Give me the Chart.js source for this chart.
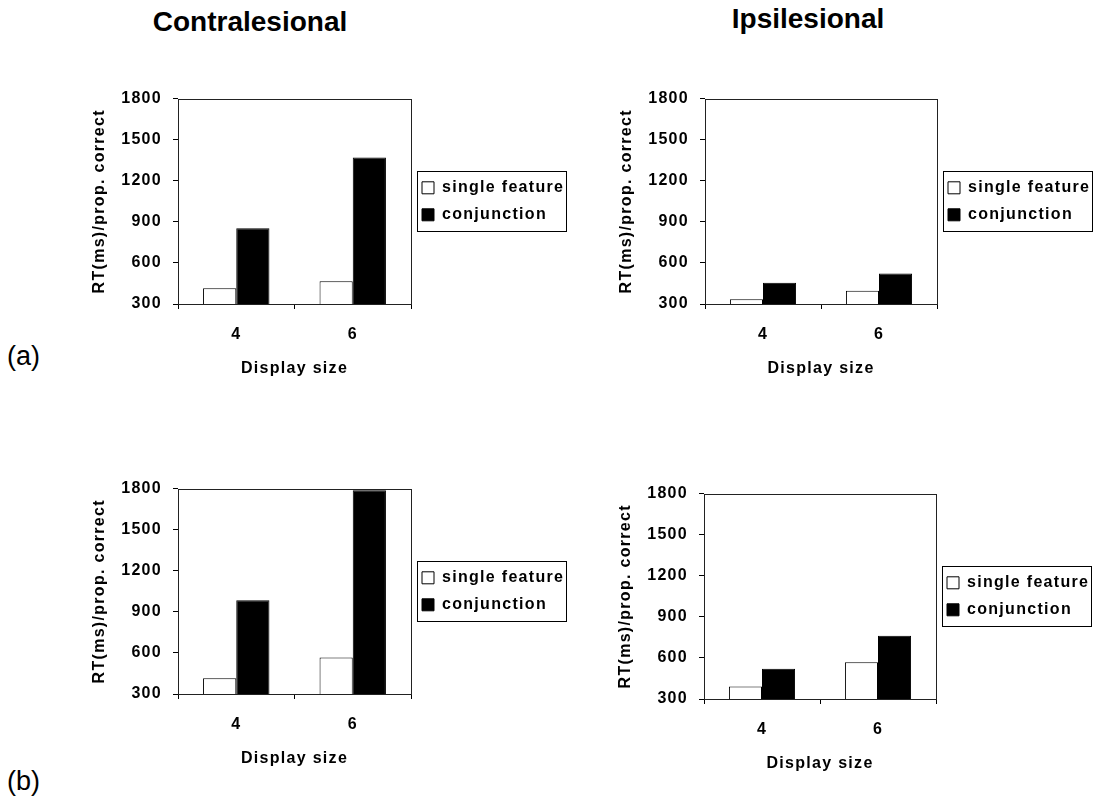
<!DOCTYPE html>
<html><head><meta charset="utf-8">
<script src="https://cdn.jsdelivr.net/npm/chart.js@4/dist/chart.umd.min.js"></script>
<style>
html,body{margin:0;padding:0;background:#fff;width:1102px;height:801px;overflow:hidden;position:relative;font-family:"Liberation Sans",Arial,sans-serif;}
.t{position:absolute;font-weight:bold;font-size:28px;line-height:28px;white-space:nowrap;color:#000;transform:translateX(-50%);}
.p{position:absolute;font-size:27px;line-height:27px;white-space:nowrap;color:#000;}
.c{position:absolute;}
canvas{display:block;}
</style></head><body>
<div class="t" style="left:250px;top:8px">Contralesional</div>
<div class="t" style="left:808px;top:5px">Ipsilesional</div>
<div class="p" style="left:7px;top:343px">(a)</div>
<div class="p" style="left:7px;top:768px">(b)</div>
<div class="c" style="left:83px;top:78px"><canvas id="c1" width="493" height="306"></canvas></div>
<div class="c" style="left:610px;top:78px"><canvas id="c2" width="492" height="306"></canvas></div>
<div class="c" style="left:83px;top:468px"><canvas id="c3" width="493" height="306"></canvas></div>
<div class="c" style="left:609px;top:473px"><canvas id="c4" width="492" height="306"></canvas></div>
<script>
// ---- data ----
const categories = ['4', '6'];
const seriesNames = ['single feature', 'conjunction'];
const yTicks = [300, 600, 900, 1200, 1500, 1800];
const xTitle = 'Display size';
const yTitle = 'RT(ms)/prop. correct';

const contraA_single = [415, 467];
const contraA_conj   = [853, 1369];
const ipsiA_single   = [335, 397];
const ipsiA_conj     = [455, 522];
const contraB_single = [415, 566];
const contraB_conj   = [985, 1788];
const ipsiB_single   = [392, 568];
const ipsiB_conj     = [520, 762];

// ---- helpers ----
const FONT = {family: '"Liberation Sans", Arial, sans-serif', size: 16, weight: 'bold'};
const SPACING = '1.3px';

const spacingPlugin = {
  id: 'spacing',
  beforeUpdate(chart) { chart.ctx.letterSpacing = SPACING; },
  beforeLayout(chart) {
    chart.ctx.letterSpacing = SPACING;
    const lg = chart.legend;
    if (lg && !lg.__fixed) {
      const orig = lg.fit;
      lg.fit = function () { orig.call(this); this.width = 165; };
      lg.__fixed = true;
    }
  },
  beforeDraw(chart) { chart.ctx.letterSpacing = SPACING; }
};

const framePlugin = {
  id: 'frame',
  afterDraw(chart) {
    const ctx = chart.ctx;
    const a = chart.chartArea;
    ctx.save();
    ctx.strokeStyle = '#222';
    ctx.lineWidth = 1;
    ctx.strokeRect(Math.round(a.left) + 0.5, Math.round(a.top) + 0.5,
                   Math.round(a.right - a.left), Math.round(a.bottom - a.top));
    const hb = chart.legend && chart.legend.legendHitBoxes;
    if (hb && hb.length) {
      const l = Math.min(...hb.map(h => h.left)) - 5;
      const t = hb[0].top - 9;
      const r = Math.max(...hb.map(h => h.left + h.width)) + 2;
      const last = hb[hb.length - 1];
      const b = last.top + last.height + 8;
      ctx.strokeStyle = '#000';
      ctx.strokeRect(Math.round(l) + 0.5, Math.round(t) + 0.5, Math.round(r - l), Math.round(b - t));
    }
    ctx.restore();
  }
};

function makeChart(id, single, conj) {
  return new Chart(document.getElementById(id), {
    type: 'bar',
    data: {
      labels: categories,
      datasets: [
        {label: seriesNames[0], data: single, backgroundColor: '#ffffff', borderColor: '#000000', borderWidth: 1},
        {label: seriesNames[1], data: conj, backgroundColor: '#000000', borderColor: '#000000', borderWidth: 1}
      ]
    },
    options: {
      responsive: false,
      animation: false,
      devicePixelRatio: 1,
      layout: {padding: {top: 10, left: 0, right: 0, bottom: 0}},
      datasets: {bar: {categoryPercentage: 0.57, barPercentage: 1}},
      scales: {
        x: {
          grid: {offset: true, drawOnChartArea: false, drawTicks: true, tickLength: 5, color: '#000'},
          border: {display: false},
          ticks: {font: FONT, color: '#000', padding: 16, maxRotation: 0},
          title: {display: true, text: xTitle, font: FONT, color: '#000', padding: {top: 0, bottom: 6}},
          afterFit(s) { s.height = 80; }
        },
        y: {
          min: yTicks[0],
          max: yTicks[yTicks.length - 1],
          afterBuildTicks(s) { s.ticks = yTicks.map(v => ({value: v})); },
          ticks: {font: FONT, color: '#000', padding: 11, callback: v => String(v)},
          grid: {drawOnChartArea: false, drawTicks: true, tickLength: 5, color: '#000'},
          border: {display: false},
          title: {display: true, text: yTitle, font: FONT, color: '#000', padding: {top: 7, bottom: 0}},
          afterFit(s) { s.width = 95; }
        }
      },
      plugins: {
        legend: {
          position: 'right',
          align: 'center',
          fullSize: false,
          labels: {boxWidth: 12, boxHeight: 12, padding: 11, font: FONT, color: '#000'}
        },
        tooltip: {enabled: false}
      }
    },
    plugins: [spacingPlugin, framePlugin]
  });
}

makeChart('c1', contraA_single, contraA_conj);
makeChart('c2', ipsiA_single, ipsiA_conj);
makeChart('c3', contraB_single, contraB_conj);
makeChart('c4', ipsiB_single, ipsiB_conj);
</script>
</body></html>
